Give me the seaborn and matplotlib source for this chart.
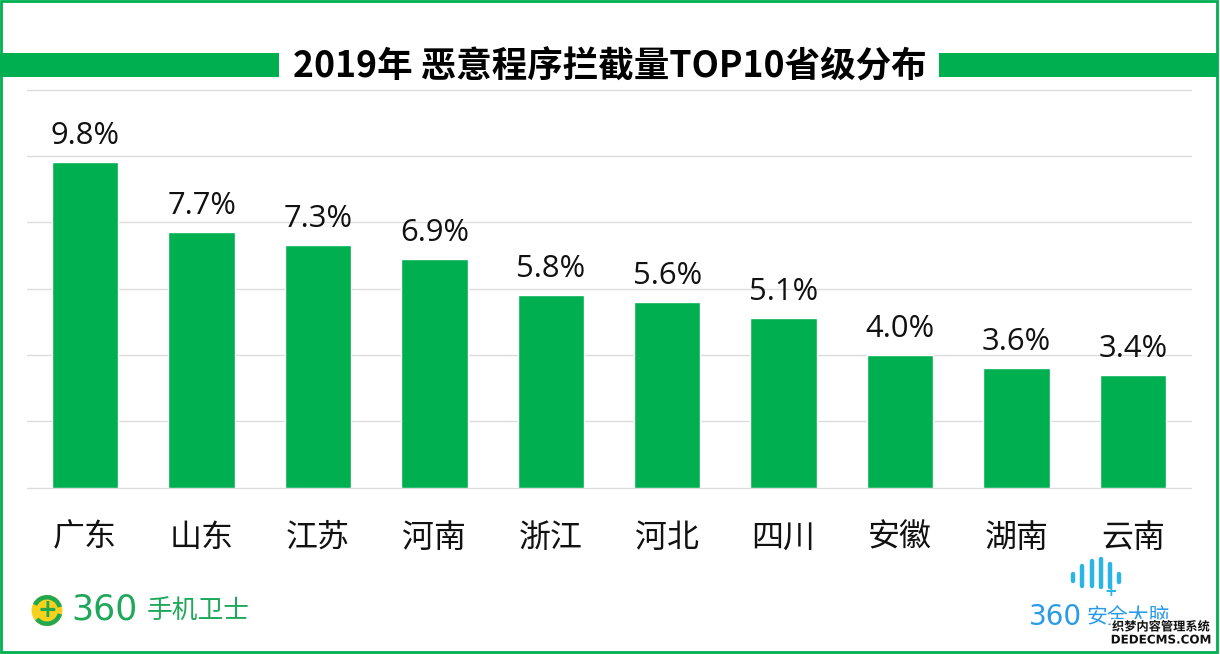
import matplotlib
matplotlib.use("Agg")
import matplotlib.pyplot as plt
import matplotlib.patheffects as pe
from matplotlib.patches import Circle, Rectangle, Wedge
import pandas as pd
import seaborn as sns

provinces = ["广东", "山东", "江苏", "河南", "浙江", "河北", "四川", "安徽", "湖南", "云南"]
shares = [9.8, 7.7, 7.3, 6.9, 5.8, 5.6, 5.1, 4.0, 3.6, 3.4]
y_ticks = [0, 2, 4, 6, 8, 10, 12]
title_text = "2019年 恶意程序拦截量TOP10省级分布"

GREEN = "#00B050"
CJK = ["Noto Sans CJK SC", "DejaVu Sans"]
W, H = 1220, 654

sns.set_theme(style="white")
plt.rcParams["font.family"] = ["Open Sans", "Noto Sans CJK SC", "DejaVu Sans"]

data = pd.DataFrame({"province": provinces, "share": shares})

fig = plt.figure(figsize=(W / 100, H / 100), dpi=100, facecolor="white")
ax = fig.add_axes([27 / W, 1 - 487.5 / H, 1164 / W, 398 / H])

sns.barplot(data=data, x="province", y="share", color=GREEN, saturation=1, width=0.57, ax=ax, zorder=3)
ax.set_xlim(-0.5, 9.5)
ax.set_ylim(0, 12)
ax.set_yticks(y_ticks)
ax.set_yticklabels([])
ax.set_xlabel("")
ax.set_ylabel("")
ax.grid(axis="y", color="#DCDCDC", linewidth=1)
ax.set_axisbelow(True)
for line in ax.get_ygridlines():
    line.set_clip_on(False)
sns.despine(ax=ax, left=True, top=True, right=True, bottom=True)
ax.tick_params(axis="x", length=0, pad=24.5, labelsize=23, labelcolor="#111111")
ax.tick_params(axis="y", length=0)
for lab in ax.get_xticklabels():
    lab.set_family(CJK)

for i, v in enumerate(shares):
    ax.annotate(f"{v}%", (i, v), xytext=(0, 8), textcoords="offset points",
                ha="center", va="bottom", fontsize=22.3, color="#111111")

# overlay in pixel coordinates for the banner, frame and logos
ov = fig.add_axes([0, 0, 1, 1], zorder=5)
ov.set_xlim(0, W)
ov.set_ylim(H, 0)
ov.axis("off")
ov.patch.set_alpha(0)

ov.add_patch(Rectangle((0, 53), 279, 24, color=GREEN, lw=0))
ov.add_patch(Rectangle((939, 53), 278, 24, color=GREEN, lw=0))
ov.text(610, 67, title_text, ha="center", va="center", fontsize=25.6, fontweight="bold",
        color="black", family=CJK)

ov.add_patch(Rectangle((1, 1), 1216, 651, fill=False, edgecolor=GREEN, lw=2))

# 360 mobile guard logo
ov.add_patch(Circle((47, 610.5), 15.5, color="#F7D11E", lw=0))
ov.add_patch(Wedge((47, 610.5), 15.5, 15, 140, width=4.5, color="#1FA84F", lw=0))
ov.add_patch(Wedge((47, 610.5), 15.5, 205, 345, width=4.5, color="#1FA84F", lw=0))
ov.text(47, 610, "+", ha="center", va="center", fontsize=17, fontweight="bold",
        color="#1FA84F", family=["DejaVu Sans"])
ov.text(104, 610, "360", ha="center", va="center", fontsize=25, color="#1FA75A", family=["DejaVu Sans"])
ov.text(147, 611, "手机卫士", ha="left", va="center", fontsize=18.5, color="#1FA75A", family=CJK)

# 360 brain logo
for x, y0, y1 in [(1073, 574, 581), (1082, 566, 586), (1092, 561, 586), (1101, 559, 587),
                  (1110, 564, 587), (1119, 574, 582)]:
    ov.plot([x, x], [y0, y1], color="#29B6E6", lw=3.2, solid_capstyle="round")
ov.text(1111, 591, "+", ha="center", va="center", fontsize=11, fontweight="bold",
        color="#29B6E6", family=["DejaVu Sans"])
ov.text(1055, 617, "360", ha="center", va="center", fontsize=20, color="#2A9BEA", family=["DejaVu Sans"])
ov.text(1087, 618, "安全大脑", ha="left", va="center", fontsize=15, color="#2A9BEA", family=CJK)

# watermark
halo = [pe.withStroke(linewidth=2.5, foreground="white")]
ov.text(1161, 627, "织梦内容管理系统", ha="center", va="center", fontsize=8.8, color="#111111",
        fontweight="bold", family=CJK, path_effects=halo)
ov.text(1161, 640, "DEDECMS.COM", ha="center", va="center", fontsize=8.6, fontweight="bold",
        color="#111111", family=["DejaVu Sans"], path_effects=halo)

fig.savefig("out.png", dpi=100)
